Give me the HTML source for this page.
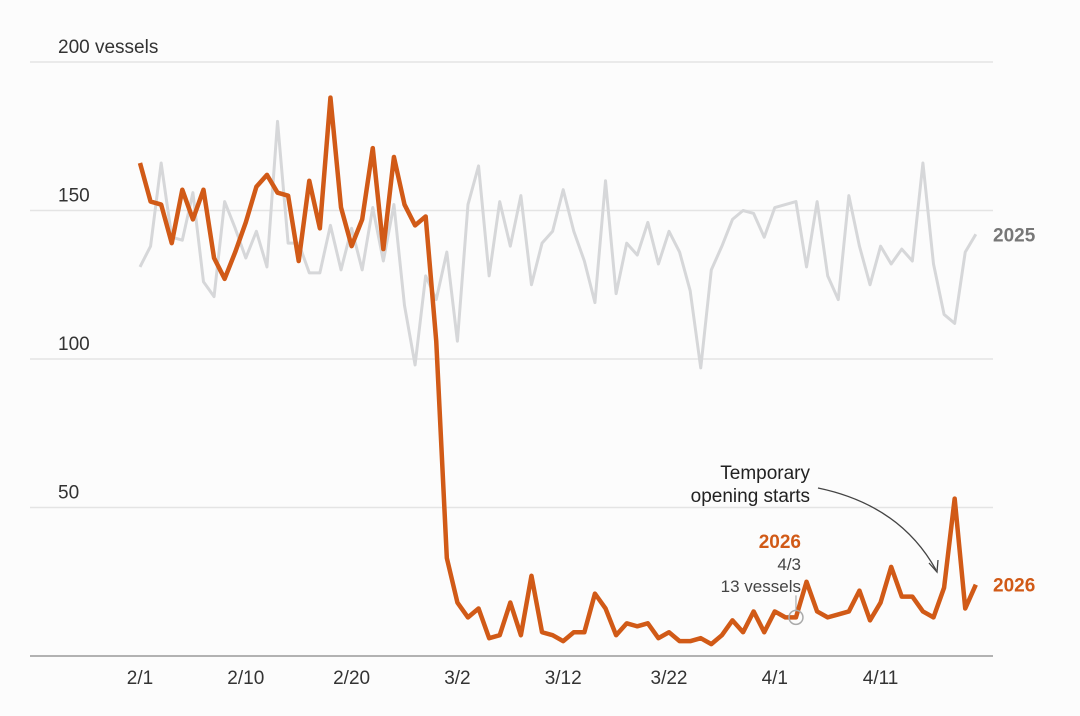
<!DOCTYPE html>
<html><head><meta charset="utf-8"><style>
html,body{margin:0;padding:0;background:#fcfcfc;}
svg{display:block;font-family:"Liberation Sans",sans-serif;}
</style></head><body>
<svg id="chart" width="1080" height="716" viewBox="0 0 1080 716">
<g id="grid"></g><g id="series"></g><g id="labels"></g>
</svg>
<script>
const xTickIdx=[0,10,20,30,40,50,60,70];
const xTickLabels=["2/1","2/10","2/20","3/2","3/12","3/22","4/1","4/11"];
const yTicks=[50,100,150,200];
const yTickLabels=["50","100","150","200 vessels"];
const s2025=[131,138,166,141,140,156,126,121,153,144,134,143,131,180,139,139,129,129,145,130,144,130,151,133,152,118,98,128,120,136,106,152,165,128,153,138,155,125,139,143,157,143,133,119,160,122,139,135,146,132,143,136,123,97,130,138,147,150,149,141,151,152,153,131,153,128,120,155,138,125,138,132,137,133,166,132,115,112,136,142];
const s2026=[166,153,152,139,157,147,157,134,127,136,146,158,162,156,155,133,160,144,188,151,138,147,171,137,168,152,145,148,106,33,18,13,16,6,7,18,7,27,8,7,5,8,8,21,16,7,11,10,11,6,8,5,5,6,4,7,12,8,15,8,15,13,13,25,15,13,14,15,22,12,18,30,20,20,15,13,23,53,16,24];
const markIdx=62;
const NS="http://www.w3.org/2000/svg";
const X=i=>140+i*10.58;
const Y=v=>656-v*2.97;
function mk(tag,attrs,parent,text){const e=document.createElementNS(NS,tag);for(const k in attrs)e.setAttribute(k,attrs[k]);if(text!==undefined)e.textContent=text;parent.appendChild(e);return e;}
const grid=document.getElementById('grid'),ser=document.getElementById('series'),lab=document.getElementById('labels');
yTicks.forEach((v,i)=>{
 const l=mk('line',{x1:30,x2:993,y1:Y(v),y2:Y(v),stroke:'#e4e4e4','stroke-width':1.5},grid);
 
 
 const t=mk('text',{x:58,y:Y(v)-9,'font-size':19,fill:'#333'},grid,yTickLabels[i]);
 
 
});
const base=mk('line',{x1:30,x2:993,y1:656,y2:656,stroke:'#9a9a9a','stroke-width':1.5},grid);


xTickIdx.forEach((d,i)=>{
 const t=mk('text',{x:X(d),y:684,'font-size':19,fill:'#333','text-anchor':'middle'},grid,xTickLabels[i]);
 
 
});
const p25=mk('polyline',{points:s2025.map((v,i)=>X(i)+','+Y(v)).join(' '),fill:'none',stroke:'#d6d7d9','stroke-width':3,'stroke-linejoin':'round'},ser);


const p26=mk('polyline',{points:s2026.map((v,i)=>X(i)+','+Y(v)).join(' '),fill:'none',stroke:'#d15a17','stroke-width':4.5,'stroke-linejoin':'round'},ser);


const mx=X(markIdx),my=Y(s2026[markIdx]);
const c=mk('circle',{cx:mx,cy:my,r:7,fill:'none',stroke:'#aaa','stroke-width':1.5},lab);


const vl=mk('line',{x1:mx,x2:mx,y1:my-22,y2:my-7,stroke:'#aaa','stroke-width':1.2},lab);


const e25=mk('text',{x:993,y:Y(s2025[79])+7,'font-size':19,'font-weight':'bold',fill:'#777'},lab,'2025');


const e26=mk('text',{x:993,y:Y(s2026[79])+7,'font-size':19,'font-weight':'bold',fill:'#d15a17'},lab,'2026');


const a1=mk('text',{x:801,y:548,'font-size':19,'font-weight':'bold',fill:'#d15a17','text-anchor':'end'},lab,'2026');


const a2=mk('text',{x:801,y:570,'font-size':17,fill:'#444','text-anchor':'end'},lab,'4/3');


const a3=mk('text',{x:801,y:592,'font-size':17,fill:'#444','text-anchor':'end'},lab,'13 vessels');


const b1=mk('text',{x:810,y:479,'font-size':19,fill:'#222','text-anchor':'end'},lab,'Temporary');


const b2=mk('text',{x:810,y:502,'font-size':19,fill:'#222','text-anchor':'end'},lab,'opening starts');


const arr=mk('path',{d:'M818,488 Q900,505 936,570',fill:'none',stroke:'#444','stroke-width':1.3},lab);


const ah=mk('path',{d:'M929,563 L937,572 L938,560',fill:'none',stroke:'#444','stroke-width':1.3},lab);


</script>
</body></html>
